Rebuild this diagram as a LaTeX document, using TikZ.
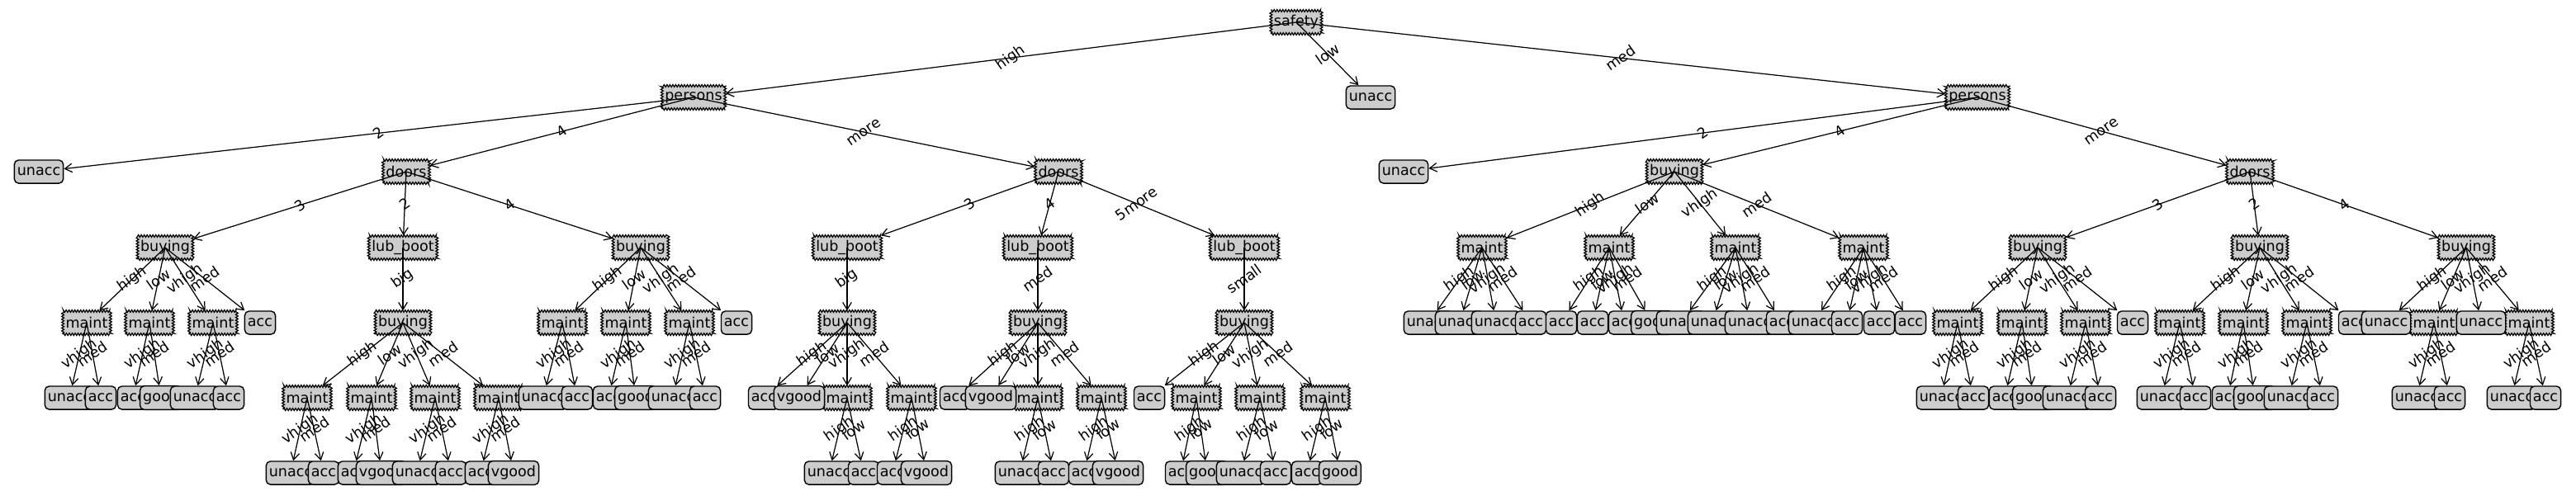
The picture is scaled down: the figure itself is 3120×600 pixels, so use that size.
\documentclass[tikz,border=0pt]{standalone}
\usepackage{fontspec}
\setmainfont{DejaVu Sans}
\usetikzlibrary{arrows.meta,decorations.pathmorphing}

\tikzset{
    dec/.style={draw, fill=gray!40, line width=0.7pt, inner xsep=2pt, inner ysep=2pt,
        minimum height=16pt, decorate,
        decoration={zigzag, segment length=2pt, amplitude=0.8pt}},
    leaf/.style={draw, fill=gray!40, line width=0.8pt, rounded corners=3pt,
        inner xsep=2pt, minimum height=16pt},
    edge/.style={-{Straight Barb[length=5pt,width=6pt]}, line width=0.7pt},
    lab/.style={rotate=35, inner sep=0pt}
}

\begin{document}
\begin{tikzpicture}[x=0.02cm, y=-0.02cm, font=\fontsize{10}{12}\selectfont]
    \useasboundingbox (0,0) rectangle (3120,600);

    % -- Radice e primi livelli --
    \node[dec] (s) at (1570,27) {safety};
    \node[dec] (pH) at (840,118) {persons};
    \node[leaf] (u1) at (1660,118) {unacc};
    \node[dec] (pM) at (2395,118) {persons};

    \node[leaf] (u2) at (47,208) {unacc};
    \node[dec] (dA) at (492,208) {doors};
    \node[dec] (dB) at (1282,208) {doors};
    \node[leaf] (u3) at (1700,208) {unacc};
    \node[dec] (bM) at (2028,208) {buying};
    \node[dec] (dM) at (2725,208) {doors};

    % -- Livello 3 --
    \node[dec] (bA) at (200,300) {buying};
    \node[dec] (lA) at (488,300) {lub\_boot};
    \node[dec] (bB) at (776,300) {buying};
    \node[dec] (lB1) at (1026,300) {lub\_boot};
    \node[dec] (lB2) at (1257,300) {lub\_boot};
    \node[dec] (lB3) at (1507,300) {lub\_boot};
    \foreach \n/\x in {m1/1795, m2/1949, m3/2102, m4/2257}
        \node[dec] (\n) at (\x,300) {maint};
    \foreach \n/\x in {bD1/2468, bD2/2737, bD3/2987}
        \node[dec] (\n) at (\x,300) {buying};

    % -- Livello 4 --
    \foreach \n/\x in {ma1/105, ma2/181, ma3/258, mb1/681, mb2/758, mb3/835,
                       mc1/2371, mc2/2449, mc3/2526, md1/2640, md2/2717, md3/2794,
                       me1/2948, me2/3063}
        \node[dec] (\n) at (\x,391) {maint};
    \foreach \n/\x in {bA2/488, bb1/1026, bb2/1257, bb3/1507}
        \node[dec] (\n) at (\x,391) {buying};
    \foreach \n/\x/\t in {a1/315/acc, a2/892/acc,
                          f1/1730/unacc, f2/1768/unacc, f3/1812/unacc, f4/1854/acc,
                          g1/1891/acc, g2/1929/acc, g3/1967/acc, g4/2001/good,
                          h1/2036/unacc, h2/2074/unacc, h3/2119/unacc, h4/2158/acc,
                          k1/2196/unacc, k2/2237/acc, k3/2276/acc, k4/2314/acc,
                          a3/2583/acc, a4/2851/acc, v1/2890/unacc, v2/3005/unacc}
        \node[leaf] (\n) at (\x,391) {\t};

    % -- Livello 5 --
    \foreach \n/\x in {mf1/372, mf2/450, mf3/527, mf4/604, mg1/1026, mg2/1104,
                       mh1/1257, mh2/1334, mi1/1449, mi2/1526, mi3/1605}
        \node[dec] (\n) at (\x,482) {maint};
    \foreach \n/\x/\t in {r1/84/unacc, r2/122/acc, r3/161/acc, r4/195/good,
                          r5/236/unacc, r6/277/acc,
                          r7/658/unacc, r8/699/acc, r9/737/acc, r10/770/good,
                          r11/815/unacc, r12/854/acc,
                          r13/925/acc, r14/968/vgood, r15/1157/acc, r16/1200/vgood,
                          r17/1392/acc,
                          r18/2351/unacc, r19/2390/acc, r20/2428/acc, r21/2463/good,
                          r22/2504/unacc, r23/2544/acc,
                          r24/2618/unacc, r25/2659/acc, r26/2698/acc, r27/2731/good,
                          r28/2772/unacc, r29/2813/acc,
                          r30/2927/unacc, r31/2967/acc, r32/3042/unacc, r33/3083/acc}
        \node[leaf] (\n) at (\x,482) {\t};

    % -- Livello 6 --
    \foreach \n/\x/\t in {t1/352/unacc, t2/392/acc, t3/428/acc, t4/462/vgood,
                          t5/505/unacc, t6/546/acc, t7/582/acc, t8/622/vgood,
                          t9/1004/unacc, t10/1046/acc, t11/1081/acc, t12/1122/vgood,
                          t13/1235/unacc, t14/1276/acc, t15/1313/acc, t16/1354/vgood,
                          t17/1430/acc, t18/1462/good, t19/1503/unacc, t20/1545/acc,
                          t21/1583/acc, t22/1623/good}
        \node[leaf] (\n) at (\x,573) {\t};

    % -- Archi --
    \foreach \a/\b/\t in {s/pH/high, s/u1/low, s/pM/med,
            pH/u2/2, pH/dA/4, pH/dB/more, pM/u3/2, pM/bM/4, pM/dM/more,
            dA/bA/3, dA/lA/2, dA/bB/4, dB/lB1/3, dB/lB2/4, dB/lB3/5more,
            bM/m1/high, bM/m2/low, bM/m3/vhigh, bM/m4/med,
            dM/bD1/3, dM/bD2/2, dM/bD3/4,
            bA/ma1/high, bA/ma2/low, bA/ma3/vhigh, bA/a1/med,
            lA/bA2/big, bB/mb1/high, bB/mb2/low, bB/mb3/vhigh, bB/a2/med,
            lB1/bb1/big, lB2/bb2/med, lB3/bb3/small,
            m1/f1/high, m1/f2/low, m1/f3/vhigh, m1/f4/med,
            m2/g1/high, m2/g2/low, m2/g3/vhigh, m2/g4/med,
            m3/h1/high, m3/h2/low, m3/h3/vhigh, m3/h4/med,
            m4/k1/high, m4/k2/low, m4/k3/vhigh, m4/k4/med,
            bD1/mc1/high, bD1/mc2/low, bD1/mc3/vhigh, bD1/a3/med,
            bD2/md1/high, bD2/md2/low, bD2/md3/vhigh, bD2/a4/med,
            bD3/v1/high, bD3/me1/low, bD3/v2/vhigh, bD3/me2/med,
            ma1/r1/vhigh, ma1/r2/med, ma2/r3/vhigh, ma2/r4/med, ma3/r5/vhigh, ma3/r6/med,
            bA2/mf1/high, bA2/mf2/low, bA2/mf3/vhigh, bA2/mf4/med,
            mb1/r7/vhigh, mb1/r8/med, mb2/r9/vhigh, mb2/r10/med, mb3/r11/vhigh, mb3/r12/med,
            bb1/r13/high, bb1/r14/low, bb1/mg1/vhigh, bb1/mg2/med,
            bb2/r15/high, bb2/r16/low, bb2/mh1/vhigh, bb2/mh2/med,
            bb3/r17/high, bb3/mi1/low, bb3/mi2/vhigh, bb3/mi3/med,
            mc1/r18/vhigh, mc1/r19/med, mc2/r20/vhigh, mc2/r21/med, mc3/r22/vhigh, mc3/r23/med,
            md1/r24/vhigh, md1/r25/med, md2/r26/vhigh, md2/r27/med, md3/r28/vhigh, md3/r29/med,
            me1/r30/vhigh, me1/r31/med, me2/r32/vhigh, me2/r33/med,
            mf1/t1/vhigh, mf1/t2/med, mf2/t3/vhigh, mf2/t4/med,
            mf3/t5/vhigh, mf3/t6/med, mf4/t7/vhigh, mf4/t8/med,
            mg1/t9/high, mg1/t10/low, mg2/t11/high, mg2/t12/low,
            mh1/t13/high, mh1/t14/low, mh2/t15/high, mh2/t16/low,
            mi1/t17/high, mi1/t18/low, mi2/t19/high, mi2/t20/low,
            mi3/t21/high, mi3/t22/low}
        \draw[edge] (\a.center) -- node[lab] {\t} (\b);
\end{tikzpicture}
\end{document}
